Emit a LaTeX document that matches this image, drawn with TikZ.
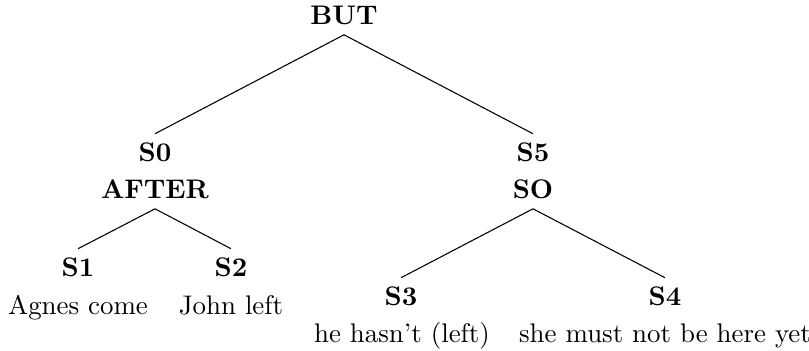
\documentclass[tikz,border=0pt]{standalone}
\begin{document}
\begin{tikzpicture}[x=0.3717pt, y=-0.3717pt, thin, rel/.style = {font=\bfseries, anchor=base}, txt/.style = {anchor=base}]
        \useasboundingbox (0,0) rectangle (809,351);
        \node[rel] (but) at (344,25) {BUT};
        \node[rel] (s0) at (155,162) {S0};
        \node[rel] (after) at (155,199) {AFTER};
        \node[rel] (s5) at (533,162) {S5};
        \node[rel] (so) at (533,199) {SO};
        \node[rel] (s1) at (78,277) {S1};
        \node[txt] (t1) at (78,315) {Agnes come};
        \node[rel] (s2) at (231,277) {S2};
        \node[txt] (t2) at (231,315) {John left};
        \node[rel] (s3) at (401,306) {S3};
        \node[txt] (t3) at (402,343) {he hasn't (left)};
        \node[rel] (s4) at (665,306) {S4};
        \node[txt] (t4) at (665,343) {she must not be here yet};
        \draw (but.south) to (s0.north);
        \draw (but.south) to (s5.north);
        \draw (after.south) to (s1.north);
        \draw (after.south) to (s2.north);
        \draw (so.south) to (s3.north);
        \draw (so.south) to (s4.north);
    \end{tikzpicture}
\end{document}
